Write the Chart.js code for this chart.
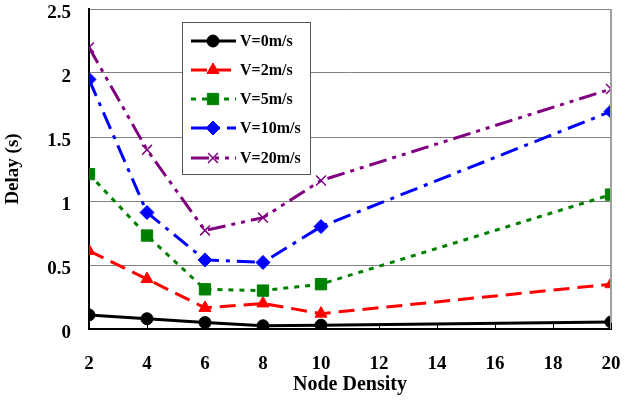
<!DOCTYPE html>
<html>
<head>
<meta charset="utf-8">
<script src="https://cdn.jsdelivr.net/npm/chart.js@4/dist/chart.umd.min.js"></script>
<style>
  html, body { margin: 0; padding: 0; background: #fff; }
  #wrap { width: 628px; height: 403px; }
</style>
</head>
<body>
<div id="wrap"><canvas id="delay-chart" width="628" height="403"></canvas></div>
<script>
// node density on the x axis
const nodeDensity = [2, 4, 6, 8, 10, 20];
const xTicks = [2, 4, 6, 8, 10, 12, 14, 16, 18, 20];
const yTicks = [0, 0.5, 1, 1.5, 2, 2.5];

// delay (s) per speed
const v0 = [0.11, 0.08, 0.05, 0.025, 0.03, 0.055];
const v2 = [0.61, 0.39, 0.165, 0.20, 0.12, 0.35];
const v5 = [1.21, 0.73, 0.31, 0.30, 0.35, 1.05];
const v10 = [1.95, 0.91, 0.54, 0.52, 0.80, 1.70];
const v20 = [2.20, 1.40, 0.77, 0.87, 1.16, 1.875];

const seriesNames = ['V=0m/s', 'V=2m/s', 'V=5m/s', 'V=10m/s', 'V=20m/s'];

const FONT = "'Liberation Serif', 'Times New Roman', serif";

const toPoints = values => values.map((v, i) => ({ x: nodeDensity[i], y: v }));

const seriesStyles = [
  { color: '#000000', dash: [], pointStyle: 'circle', radius: 6, pointBorder: 1 },
  { color: '#ff0000', dash: [16, 8], pointStyle: 'triangle', radius: 7, pointBorder: 1 },
  { color: '#008000', dash: [5, 6], pointStyle: 'rect', radius: 8, pointBorder: 1 },
  { color: '#0000ff', dash: [18, 7, 4, 7], pointStyle: 'rectRot', radius: 7, pointBorder: 1 },
  { color: '#800080', dash: [18, 6, 4, 6, 4, 6], pointStyle: 'crossRot', radius: 7, pointBorder: 1.5 }
];

const seriesValues = [v0, v2, v5, v10, v20];

const datasets = seriesValues.map((values, i) => {
  const s = seriesStyles[i];
  return {
    label: seriesNames[i],
    data: toPoints(values),
    borderColor: s.color,
    backgroundColor: s.color,
    borderWidth: 3,
    borderDash: s.dash,
    pointStyle: s.pointStyle,
    pointRadius: s.radius,
    pointBorderWidth: s.pointBorder,
    pointBackgroundColor: s.color,
    pointBorderColor: s.color,
    tension: 0,
    fill: false,
    order: 5 - i
  };
});

// inward x ticks, right border and the boxed legend
const framePlugin = {
  id: 'frame',
  afterDatasetsDraw(chart) {
    const { ctx, chartArea, scales } = chart;
    ctx.save();
    // right border
    ctx.strokeStyle = '#a0a0a0';
    ctx.lineWidth = 2;
    ctx.beginPath();
    ctx.moveTo(chartArea.right, chartArea.top);
    ctx.lineTo(chartArea.right, chartArea.bottom);
    ctx.stroke();
    // x ticks pointing up
    ctx.strokeStyle = '#000';
    ctx.lineWidth = 1;
    xTicks.forEach(t => {
      const x = Math.round(scales.x.getPixelForValue(t)) + 0.5;
      ctx.beginPath();
      ctx.moveTo(x, chartArea.bottom);
      ctx.lineTo(x, chartArea.bottom - 6);
      ctx.stroke();
    });
    ctx.restore();
  },
  afterDraw(chart) {
    const { ctx } = chart;
    const box = { x: 182.5, y: 22.5, w: 128, h: 152 };
    ctx.save();
    ctx.fillStyle = '#fff';
    ctx.fillRect(box.x, box.y, box.w, box.h);
    ctx.strokeStyle = '#555';
    ctx.lineWidth = 1;
    ctx.strokeRect(box.x, box.y, box.w, box.h);
    const rowY = [41, 70, 99, 128, 158];
    chart.data.datasets.forEach((ds, i) => {
      const y = rowY[i];
      ctx.strokeStyle = ds.borderColor;
      ctx.lineWidth = 3;
      ctx.setLineDash(ds.borderDash);
      ctx.beginPath();
      ctx.moveTo(191, y);
      ctx.lineTo(236, y);
      ctx.stroke();
      ctx.setLineDash([]);
      ctx.fillStyle = ds.pointBackgroundColor;
      ctx.strokeStyle = ds.pointBorderColor;
      ctx.lineWidth = ds.pointBorderWidth;
      Chart.helpers.drawPoint(ctx, {
        pointStyle: ds.pointStyle,
        radius: ds.pointRadius,
        rotation: 0,
        borderWidth: ds.pointBorderWidth
      }, 213, y);
      ctx.fillStyle = '#000';
      ctx.font = `bold 16px ${FONT}`;
      ctx.textBaseline = 'middle';
      ctx.textAlign = 'left';
      ctx.fillText(ds.label, 240, y + 1);
    });
    ctx.restore();
  }
};

new Chart(document.getElementById('delay-chart'), {
  type: 'line',
  data: { datasets },
  options: {
    responsive: false,
    animation: false,
    layout: { padding: { top: 8, right: 17, bottom: 6, left: 2 } },
    plugins: {
      legend: { display: false },
      tooltip: { enabled: false }
    },
    scales: {
      x: {
        type: 'linear',
        min: 2,
        max: 20,
        afterBuildTicks: scale => { scale.ticks = xTicks.map(v => ({ value: v })); },
        afterFit: scale => {
          scale.height = 68;
          scale.paddingLeft = 0;
          scale.paddingRight = 0;
        },
        grid: { display: false },
        border: { display: true, color: '#000', width: 2 },
        ticks: {
          color: '#000',
          padding: 16,
          maxRotation: 0,
          font: { family: FONT, size: 19, weight: 'bold' }
        },
        title: {
          display: true,
          text: 'Node Density',
          color: '#000',
          padding: { top: 0, bottom: 0 },
          font: { family: FONT, size: 20, weight: 'bold' }
        }
      },
      y: {
        min: 0,
        max: 2.5,
        afterBuildTicks: scale => { scale.ticks = yTicks.map(v => ({ value: v })); },
        afterFit: scale => {
          scale.width = 87;
          scale.paddingTop = 0;
          scale.paddingBottom = 0;
        },
        grid: { color: '#808080', lineWidth: 1, drawTicks: false },
        border: { display: true, color: '#000', width: 2 },
        ticks: {
          color: '#000',
          padding: 18,
          labelOffset: 4,
          callback: v => String(v),
          font: { family: FONT, size: 19, weight: 'bold' }
        },
        title: {
          display: true,
          text: 'Delay (s)',
          color: '#000',
          padding: { top: 0, bottom: 0 },
          font: { family: FONT, size: 19, weight: 'bold' }
        }
      }
    }
  },
  plugins: [framePlugin]
});
</script>
</body>
</html>
